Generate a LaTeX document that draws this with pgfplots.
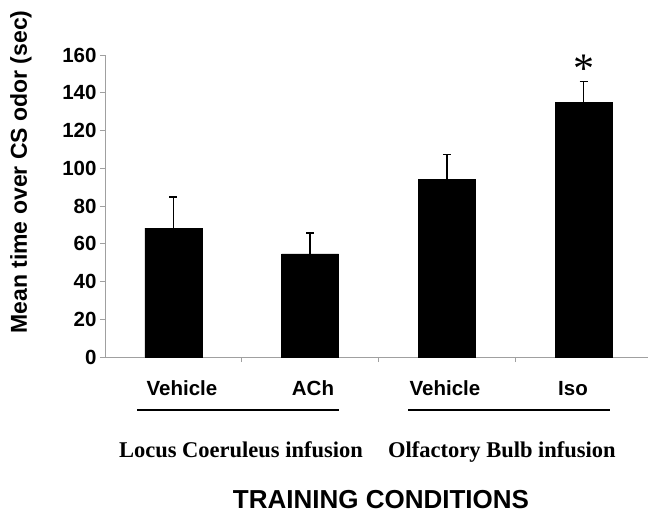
\documentclass[border=0pt]{standalone}
\usepackage{pgfplots}
\pgfplotsset{compat=1.18}
\usepackage{fontspec}
\setmainfont{Liberation Sans}
\newfontfamily\timesfont{Liberation Serif}
\definecolor{axgray}{RGB}{160,160,160}
\begin{document}
\begin{tikzpicture}
\useasboundingbox (-105pt,-157pt) rectangle (543pt,357pt);
\begin{axis}[
  at={(0pt,0pt)}, anchor=south west,
  scale only axis,
  width=547pt, height=302pt,
  xmin=-0.5, xmax=3.5, ymin=0, ymax=160,
  axis x line*=bottom, axis y line*=left,
  axis line style={draw=axgray, line width=0.8pt, -},
  xtick={0.5,1.5,2.5}, xticklabels={},
  ytick={0,20,...,160},
  tick align=outside,
  major tick length=5pt,
  tick style={draw=axgray, line width=0.8pt},
  /pgf/number format/assume math mode=true,
  yticklabel style={font=\fontsize{20.5}{20.5}\selectfont\bfseries, xshift=0pt},
  ybar, bar width=57pt,
  clip=false,
]
\addplot[fill=black, draw=black,
  error bars/.cd, y dir=plus, y explicit,
  error bar style={line width=1.6pt, black},
  error mark options={rotate=90, mark size=4pt, line width=1.6pt, black}]
  coordinates {
  (0,68.3) +- (0,16.6)
  (1,54.6) +- (0,11.1)
  (2,94.3) +- (0,13.0)
  (3,134.9) +- (0,11.0)
};
\end{axis}
% y label
\node[rotate=90, font=\fontsize{23}{23}\selectfont\bfseries] at (-84pt,185pt) {Mean time over CS odor (sec)};
% asterisk
\node[anchor=base, font=\timesfont\fontsize{42}{42}\selectfont, inner sep=0pt] at (479pt,274pt) {*};
% category labels
\begin{scope}[every node/.style={anchor=base, inner sep=0pt, font=\fontsize{20.5}{20.5}\selectfont\bfseries}]
\node at (77pt,-38pt) {Vehicle};
\node at (208pt,-38pt) {ACh};
\node at (340pt,-38pt) {Vehicle};
\node at (468pt,-38pt) {Iso};
\end{scope}
\draw[line width=2.2pt] (32pt,-53pt) -- (234pt,-53pt);
\draw[line width=2.2pt] (303pt,-53pt) -- (505pt,-53pt);
\begin{scope}[every node/.style={anchor=base, inner sep=0pt, font=\timesfont\fontsize{22.5}{22.5}\selectfont\bfseries}]
\node at (136pt,-100pt) {Locus Coeruleus infusion};
\node at (397pt,-100pt) {Olfactory Bulb infusion};
\end{scope}
\node[anchor=base, inner sep=0pt, font=\fontsize{26}{26}\selectfont\bfseries] at (276pt,-151pt) {TRAINING CONDITIONS};
\end{tikzpicture}
\end{document}
